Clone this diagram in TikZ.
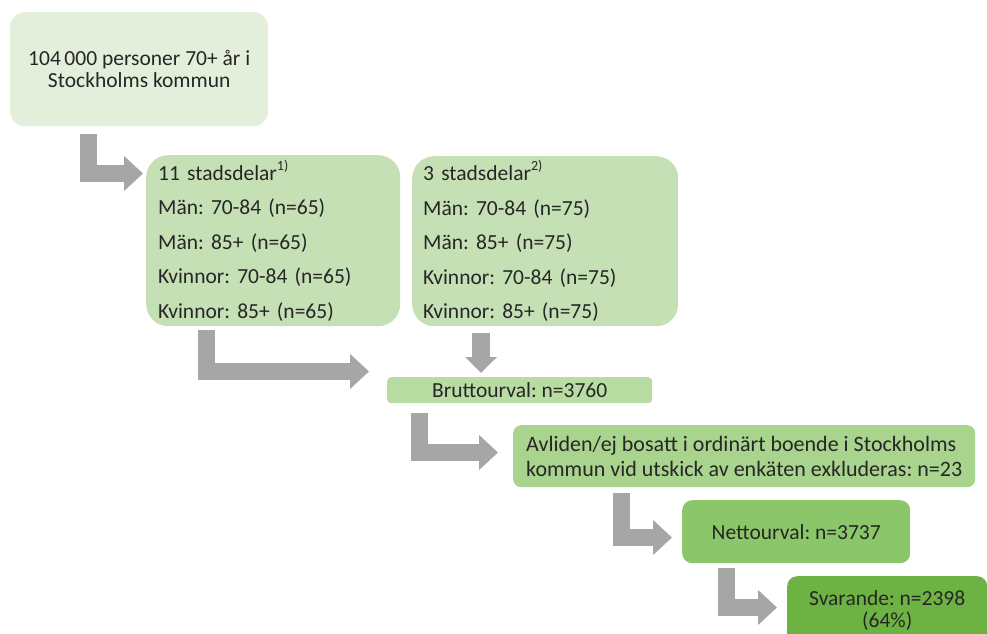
\documentclass[tikz,border=0pt]{standalone}
\usepackage{fontspec}
\setmainfont{Carlito}
\usetikzlibrary{arrows.meta}
\definecolor{gA}{HTML}{E3EFDA}
\definecolor{gB}{HTML}{C5E0B4}
\definecolor{gC}{HTML}{B8DCA2}
\definecolor{gD}{HTML}{A8D48E}
\definecolor{gE}{HTML}{8CC66A}
\definecolor{gF}{HTML}{6DB344}
\definecolor{arr}{HTML}{A6A6A6}
\definecolor{txt}{HTML}{262626}
\newcommand{\supnote}[1]{\raisebox{0.45em}{\fontsize{14}{14}\selectfont #1}}
\tikzset{
  box/.style={anchor=north west, draw=none, inner sep=0pt, font=\frenchspacing\fontsize{21.5}{22.5}\selectfont, text=txt},
  bent/.style={draw=arr, line width=17pt, line join=miter, line cap=butt, -{Triangle[length=19pt,width=34pt]}},
}
\begin{document}
\begin{tikzpicture}[x=1pt,y=-1pt]
\useasboundingbox (0,0) rectangle (987,633);
\node[box, fill=gA, rounded corners=15pt, minimum width=258pt, minimum height=114pt, align=center] (pop) at (10,12) {104\,000 personer 70+ år i\\Stockholms kommun};
\node[box, fill=gB, rounded corners=22pt, minimum width=254pt, minimum height=171pt, text width=230pt, inner xsep=12pt, align=left,
  font=\frenchspacing\fontsize{21.5}{34.5}\selectfont] (s11) at (146,155)
  {11 stadsdelar\supnote{1)}\\Män: 70-84 (n=65)\\Män: 85+ (n=65)\\Kvinnor: 70-84 (n=65)\\Kvinnor: 85+ (n=65)};
\node[box, fill=gB, rounded corners=22pt, minimum width=266pt, minimum height=170pt, text width=244pt, inner xsep=11pt, align=left,
  font=\frenchspacing\fontsize{21.5}{34.5}\selectfont] (s3) at (412,156)
  {3 stadsdelar\supnote{2)}\\Män: 70-84 (n=75)\\Män: 85+ (n=75)\\Kvinnor: 70-84 (n=75)\\Kvinnor: 85+ (n=75)};
\node[box, fill=gC, rounded corners=4pt, minimum width=265pt, minimum height=26pt] (brutto) at (387,377) {Bruttourval: n=3760};
\node[box, fill=gD, rounded corners=8pt, minimum width=462pt, minimum height=62pt, align=left,
  font=\frenchspacing\fontsize{22}{25}\selectfont] (avl) at (513,425)
  {Avliden/ej bosatt i ordinärt boende i Stockholms\\kommun vid utskick av enkäten exkluderas: n=23};
\node[box, fill=gE, rounded corners=10pt, minimum width=228pt, minimum height=63pt] (netto) at (682,500) {Nettourval: n=3737};
\node[box, fill=gF, rounded corners=10pt, minimum width=200pt, minimum height=69pt, align=center] (svar) at (787,576)
  {Svarande: n=2398\\(64\%)};
% bent arrows
\coordinate (a1) at (88,134);
\coordinate (a2) at (206,330);
\coordinate (a3) at (419,413);
\coordinate (a4) at (621,493);
\coordinate (a5) at (726,568);
\draw[bent] (a1) |- (143,173.5);
\draw[bent] (a2) |- (369,371.5);
\draw[bent] (a3) |- (498,452.5);
\draw[bent] (a4) |- (672,537.5);
\draw[bent] (a5) |- (777,607.5);
\draw[draw=arr, line width=18pt, -{Triangle[length=16pt,width=31pt]}] (481,333) -- (481,373);
\end{tikzpicture}
\end{document}
